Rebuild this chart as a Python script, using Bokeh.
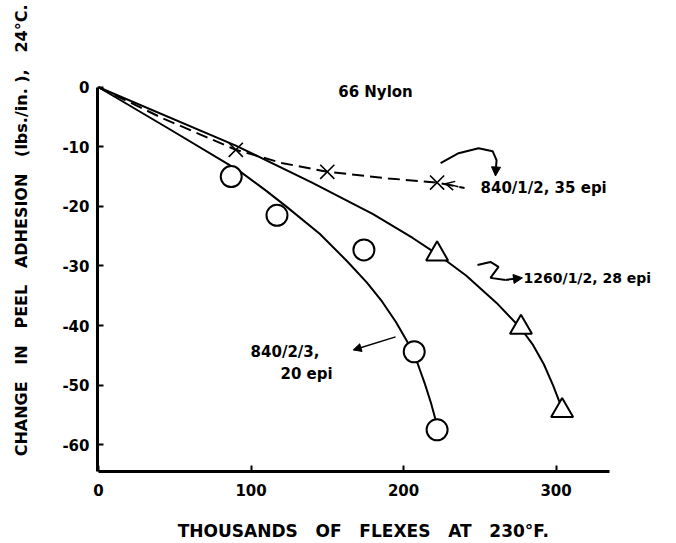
import math
from bokeh.plotting import figure
from bokeh.models import Range1d, FixedTicker, Label, Arrow, NormalHead, OpenHead
from bokeh.embed import file_html
from bokeh.resources import INLINE

# ---- data ----
x_cross = [90, 150, 222]
y_cross = [-10.5, -14.2, -16.0]

x_circle = [87, 117, 174, 207, 222]
y_circle = [-15.0, -21.5, -27.3, -44.4, -57.5]

x_tri = [222, 277, 304]
y_tri = [-28.0, -40.3, -54.3]

# hand-drawn fitted curves
curve_circle_x = [0, 45, 92, 110, 123, 145, 163, 176, 186, 195, 202, 209, 214, 218, 221]
curve_circle_y = [0, -6.8, -14.0, -17.4, -20.0, -24.6, -29.2, -32.8, -36.0, -39.4,
                  -42.5, -46.2, -49.8, -53.0, -55.8]

curve_tri_x = [0, 90, 140, 180, 206, 222, 241, 261, 277, 285, 292, 298, 304]
curve_tri_y = [0, -9.8, -16.0, -21.3, -25.3, -28.0, -31.6, -36.2, -40.5, -43.3,
               -46.5, -50.0, -54.0]

curve_dash_x = [0, 42, 90, 120, 150, 190, 222, 240]
curve_dash_y = [0, -5.2, -10.5, -12.7, -14.2, -15.3, -16.0, -16.9]

# annotation pointer paths
curl1_x = [224.3, 236.1, 249.2, 258.4, 261.0, 260.6]
curl1_y = [-12.74, -11.07, -10.23, -10.73, -12.24, -13.6]
curl2_x = [248.5, 257.0, 262.3, 257.0, 266.9]
curl2_y = [-29.83, -29.33, -30.16, -32.0, -32.34]

x_ticks = [0, 100, 200, 300]
x_tick_labels = ["0", "100", "200", "300"]
y_ticks = [0, -10, -20, -30, -40, -50, -60]
y_tick_labels = ["0", "-10", "-20", "-30", "-40", "-50", "-60"]

NB = "\u00a0"
x_title = (" " + NB * 2).join(["THOUSANDS", "OF", "FLEXES", "AT", "230°F."]) + NB * 8
y_title = NB * 2 + (" " + NB * 2).join(["CHANGE", "IN", "PEEL", "ADHESION", "(lbs./in. ),", "24°C."])

FONT = "DejaVu Sans"

p = figure(width=676, height=543,
           x_range=Range1d(-0.7, 379), y_range=Range1d(-64.5, 14.56),
           output_backend="svg", toolbar_location=None,
           min_border_left=97, min_border_right=0, min_border_top=0, min_border_bottom=71)
p.outline_line_color = None
p.xgrid.visible = False
p.ygrid.visible = False
p.background_fill_color = "white"
p.border_fill_color = "white"

for ax in (p.xaxis[0], p.yaxis[0]):
    ax.axis_line_width = 3
    ax.axis_line_color = "black"
    ax.major_tick_in = 6
    ax.major_tick_out = 0
    ax.major_tick_line_width = 2
    ax.minor_tick_line_color = None
    ax.major_label_text_font = FONT
    ax.major_label_text_font_style = "bold"
    ax.major_label_text_font_size = "15px"
    ax.major_label_text_color = "black"
    ax.axis_label_text_font = FONT
    ax.axis_label_text_font_style = "bold"
    ax.axis_label_text_color = "black"

p.xaxis.axis_label_text_font_size = "17px"
p.yaxis.axis_label_text_font_size = "16px"
p.xaxis.bounds = (0, 335)
p.yaxis.bounds = (-64.5, 0)
p.xaxis.ticker = FixedTicker(ticks=x_ticks)
p.yaxis.ticker = FixedTicker(ticks=y_ticks)
p.xaxis.major_label_overrides = dict(zip(x_ticks, x_tick_labels))
p.yaxis.major_label_overrides = dict(zip(y_ticks, y_tick_labels))
p.xaxis.major_label_standoff = 12
p.yaxis.major_label_standoff = 8
p.xaxis.axis_label = x_title
p.yaxis.axis_label = y_title
p.xaxis.axis_label_standoff = 22
p.yaxis.axis_label_standoff = 28

# curves
p.line(curve_circle_x, curve_circle_y, line_color="black", line_width=2)
p.line(curve_tri_x, curve_tri_y, line_color="black", line_width=2)
p.line(curve_dash_x, curve_dash_y, line_color="black", line_width=2, line_dash="12 6")

# pointers
p.line(curl1_x, curl1_y, line_color="black", line_width=2)
p.add_layout(Arrow(end=NormalHead(size=9, fill_color="black", line_color="black"),
                   x_start=curl1_x[-1], y_start=curl1_y[-1], x_end=260.3, y_end=-14.9,
                   line_width=2))
p.line(curl2_x, curl2_y, line_color="black", line_width=2)
p.add_layout(Arrow(end=NormalHead(size=9, fill_color="black", line_color="black"),
                   x_start=curl2_x[-1], y_start=curl2_y[-1], x_end=278.0, y_end=-32.0,
                   line_width=2))
p.add_layout(Arrow(end=NormalHead(size=8, fill_color="black", line_color="black"),
                   x_start=194.8, y_start=-41.9, x_end=167.0, y_end=-44.1,
                   line_width=1.5))
p.add_layout(Arrow(end=OpenHead(size=9, line_width=1.5), x_start=236, y_start=-16.7,
                   x_end=227.5, y_end=-16.2, line_width=1.5, line_dash="6 3"))

# markers
p.scatter(x_circle, y_circle, marker="circle", size=21, fill_color="white",
          line_color="black", line_width=2)
p.scatter(x_tri, y_tri, marker="triangle", size=22, fill_color="white",
          line_color="black", line_width=2)
p.scatter(x_cross, y_cross, marker="x", size=20, line_color="black", line_width=1.6)

def lab(x, y, t, size="15px", align="left", angle=0.0):
    p.add_layout(Label(x=x, y=y, text=t, text_font=FONT, text_font_style="bold",
                       text_font_size=size, text_align=align, text_baseline="middle",
                       text_color="black", angle=angle))

lab(181.6, -0.85, "66 Nylon", "15px", "center")
lab(250.5, -16.9, "840/1/2, 35 epi", "15px", "left")
lab(278.7, -32.0, "1260/1/2, 28 epi", "14px", "left")
lab(99.7, -44.4, "840/2/3,", "15px", "left")
lab(136.4, -48.2, "20 epi", "15px", "center")

open("out.html", "w").write(file_html(p, INLINE))
